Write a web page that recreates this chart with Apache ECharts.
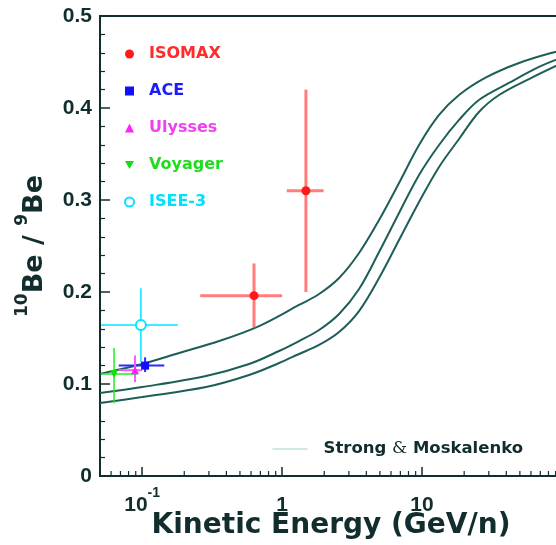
<!DOCTYPE html>
<html>
<head>
<meta charset="utf-8">
<script src="https://cdn.jsdelivr.net/npm/echarts@6/dist/echarts.min.js"></script>
<style>
  html, body { margin: 0; padding: 0; background: #ffffff; }
  #chart { width: 556px; height: 545px; }
</style>
</head>
<body>
<div id="chart"></div>
<script>
// Strong & Moskalenko propagation model: 10Be/9Be versus kinetic energy (GeV/n)
const modelUpperE = [0.05, 0.1, 0.184, 0.355, 0.685, 1.322, 1.838, 2.554, 3.548, 4.932, 6.85, 9.52, 13.23, 18.38, 28.65, 49.3, 89.1, 100];
const modelUpperR = [0.111, 0.1217, 0.1337, 0.1467, 0.163, 0.1859, 0.1978, 0.2152, 0.2424, 0.2783, 0.3185, 0.3598, 0.3924, 0.4141, 0.4332, 0.4489, 0.4609, 0.462];

const modelMidE = [0.05, 0.1, 0.286, 0.581, 0.952, 1.322, 1.838, 2.554, 3.548, 4.932, 6.85, 9.52, 13.23, 18.38, 25.5, 41.8, 68.5, 100];
const modelMidR = [0.0902, 0.0967, 0.1087, 0.1217, 0.1359, 0.1467, 0.1587, 0.1761, 0.2033, 0.2435, 0.2859, 0.3272, 0.3598, 0.387, 0.4087, 0.4272, 0.4446, 0.4549];

const modelLowE = [0.05, 0.1, 0.286, 0.581, 0.952, 1.322, 1.838, 2.554, 3.548, 4.932, 6.85, 9.52, 13.23, 18.38, 25.5, 35.5, 58.1, 100];
const modelLowR = [0.0793, 0.0859, 0.0967, 0.1098, 0.1228, 0.1326, 0.1424, 0.1565, 0.1793, 0.2152, 0.2565, 0.2978, 0.3359, 0.3663, 0.3957, 0.4141, 0.4315, 0.4489];

// Measurements: energy, ratio and their error ranges
const isomaxE = [0.63, 1.48];
const isomaxR = [0.196, 0.31];
const isomaxELo = [0.26, 1.08];
const isomaxEHi = [1.0, 1.98];
const isomaxRLo = [0.161, 0.20];
const isomaxRHi = [0.231, 0.42];

const aceE = [0.105];
const aceR = [0.12];
const aceELo = [0.068];
const aceEHi = [0.144];
const aceRLo = [0.113];
const aceRHi = [0.129];

const ulyssesE = [0.089];
const ulyssesR = [0.115];
const ulyssesELo = [0.068];
const ulyssesEHi = [0.1];
const ulyssesRLo = [0.102];
const ulyssesRHi = [0.131];

const voyagerE = [0.063];
const voyagerR = [0.111];
const voyagerELo = [0.051];
const voyagerEHi = [0.092];
const voyagerRLo = [0.079];
const voyagerRHi = [0.139];

const iseeE = [0.098];
const iseeR = [0.164];
const iseeELo = [0.051];
const iseeEHi = [0.18];
const iseeRLo = [0.124];
const iseeRHi = [0.204];

const modelName = 'Strong & Moskalenko';
const yTickLabels = ['0', '0.1', '0.2', '0.3', '0.4', '0.5'];

const INK = '#122d2d';
const CURVE = '#1d5f58';

function zip(e, r) { return e.map((v, i) => [v, r[i]]); }
function rows(e, r, elo, ehi, rlo, rhi) {
  return e.map((v, i) => [v, r[i], elo[i], ehi[i], rlo[i], rhi[i]]);
}

function errorBarRenderer(color, width) {
  return function (params, api) {
    const c = api.coord([api.value(0), api.value(1)]);
    const l = api.coord([api.value(2), api.value(1)]);
    const r = api.coord([api.value(3), api.value(1)]);
    const lo = api.coord([api.value(0), api.value(4)]);
    const hi = api.coord([api.value(0), api.value(5)]);
    const style = { stroke: color, lineWidth: width };
    return {
      type: 'group',
      children: [
        { type: 'line', shape: { x1: l[0], y1: c[1], x2: r[0], y2: c[1] }, style: style },
        { type: 'line', shape: { x1: c[0], y1: lo[1], x2: c[0], y2: hi[1] }, style: style }
      ]
    };
  };
}

// logarithmic minor tick positions (2..9 per decade)
const minorTickValues = [];
for (let k = -2; k <= 1; k++) {
  for (let m = 2; m <= 9; m++) {
    const v = m * Math.pow(10, k);
    if (v > 0.05 && v < 100) minorTickValues.push([v, 0]);
  }
}

const experiments = [
  { name: 'ISOMAX',  data: rows(isomaxE, isomaxR, isomaxELo, isomaxEHi, isomaxRLo, isomaxRHi),
    symbol: 'circle', size: 9, color: '#ff1a1a', bar: 'rgba(255,70,70,0.7)', barWidth: 3, text: '#ff2a2a' },
  { name: 'ACE',     data: rows(aceE, aceR, aceELo, aceEHi, aceRLo, aceRHi),
    symbol: 'rect', size: 8, color: '#1010ff', bar: '#2a2aff', barWidth: 2, text: '#1a1aff' },
  { name: 'Ulysses', data: rows(ulyssesE, ulyssesR, ulyssesELo, ulyssesEHi, ulyssesRLo, ulyssesRHi),
    symbol: 'triangle', size: 8, color: '#ff22ff', bar: '#ff55ff', barWidth: 2, text: '#f040f0' },
  { name: 'Voyager', data: rows(voyagerE, voyagerR, voyagerELo, voyagerEHi, voyagerRLo, voyagerRHi),
    symbol: 'path://M0,0 L10,0 L5,9 Z', size: 8, color: '#11dd11', bar: '#22ee22', barWidth: 1.5, text: '#1fdc1f' },
  { name: 'ISEE-3',  data: rows(iseeE, iseeR, iseeELo, iseeEHi, iseeRLo, iseeRHi),
    symbol: 'emptyCircle', size: 10, color: '#00e6ff', bar: '#00e6ff', barWidth: 1.5, text: '#00e0ff' }
];

const series = [];
[[modelUpperE, modelUpperR], [modelMidE, modelMidR], [modelLowE, modelLowR]].forEach(function (c) {
  series.push({
    name: modelName, type: 'line', data: zip(c[0], c[1]), smooth: 0.35,
    symbol: 'none', lineStyle: { color: CURVE, width: 2 }, z: 2, silent: true
  });
});
experiments.forEach(function (ex) {
  series.push({
    name: ex.name, type: 'scatter', data: ex.data.map(d => [d[0], d[1]]),
    symbol: ex.symbol, symbolSize: ex.size,
    itemStyle: { color: ex.color, borderColor: ex.color, borderWidth: ex.symbol === 'emptyCircle' ? 1.6 : 0, opacity: 1 },
    z: 5
  });
});
experiments.forEach(function (ex) {
  series.push({
    name: ex.name, type: 'custom', data: ex.data, encode: { x: 0, y: 1 },
    renderItem: errorBarRenderer(ex.bar, ex.barWidth), z: 4, silent: true
  });
});
series.push({
  type: 'custom', data: minorTickValues, silent: true, z: 6,
  renderItem: function (params, api) {
    const p = api.coord([api.value(0), 0]);
    return { type: 'line', shape: { x1: p[0], y1: p[1], x2: p[0], y2: p[1] - 5 },
             style: { stroke: INK, lineWidth: 1.2 } };
  }
});

const chart = echarts.init(document.getElementById('chart'), null, { renderer: 'canvas' });
chart.setOption({
  animation: false,
  backgroundColor: '#ffffff',
  grid: {
    left: 100, top: 16, width: 462, height: 460, show: true,
    borderColor: INK, borderWidth: 2, containLabel: false, outerBoundsMode: 'none'
  },
  legend: [
    {
      orient: 'vertical', left: 119, top: 39, itemWidth: 9, itemHeight: 9, itemGap: 17,
      selectedMode: false,
      textStyle: { fontFamily: 'DejaVu Sans', fontWeight: 'bold', fontSize: 16, lineHeight: 20, padding: [0, 0, 0, 10] },
      data: experiments.map(ex => ({ name: ex.name, textStyle: { color: ex.text } }))
    },
    {
      orient: 'horizontal', left: 267, top: 434, itemWidth: 35, itemHeight: 10,
      selectedMode: false,
      textStyle: {
        color: INK, lineHeight: 20, padding: [0, 0, 0, 11],
        rich: {
          t: { fontFamily: 'DejaVu Sans', fontWeight: 'bold', fontSize: 16.5, color: INK },
          a: { fontFamily: 'DejaVu Serif', fontSize: 17, color: INK }
        }
      },
      formatter: function () { return '{t|Strong }{a|&}{t| Moskalenko}'; },
      data: [{
        name: modelName,
        lineStyle: { color: '#9fd3cd', width: 1 },
        itemStyle: { color: '#9fd3cd', opacity: 0, borderWidth: 0 }
      }]
    }
  ],
  xAxis: {
    type: 'log', min: 0.05, max: 100, splitNumber: 3,
    name: 'Kinetic Energy (GeV/n)', nameLocation: 'middle', nameGap: 36, nameMoveOverlap: false,
    nameTextStyle: { fontFamily: 'DejaVu Sans', fontWeight: 'bold', fontSize: 28, color: INK },
    axisLine: { lineStyle: { color: INK, width: 2 } },
    axisTick: { inside: true, length: 9, lineStyle: { color: INK, width: 1.5 } },
    splitLine: { show: false },
    axisLabel: {
      margin: 10, color: INK, showMinLabel: false,
      formatter: function (v) {
        const lg = Math.log10(v);
        if (Math.abs(lg - Math.round(lg)) > 1e-6) return '';
        const e = Math.round(lg);
        if (e === -1) return '{b|10}{s|-1}';
        if (e === 0) return '{b|1}';
        if (e === 1) return '{b|10}';
        return '';
      },
      rich: {
        b: { fontFamily: 'Liberation Sans', fontWeight: 'bold', fontSize: 21, lineHeight: 30, verticalAlign: 'bottom', color: INK },
        s: { fontFamily: 'Liberation Sans', fontWeight: 'bold', fontSize: 14, lineHeight: 30, verticalAlign: 'top', color: INK }
      }
    }
  },
  yAxis: {
    type: 'value', min: 0, max: 0.5, interval: 0.1,
    name: '{s|10}{b|Be / }{s|9}{b|Be}', nameLocation: 'middle', nameRotate: 90, nameGap: 52,
    nameTextStyle: {
      color: INK,
      rich: {
        b: { fontFamily: 'DejaVu Sans', fontWeight: 'bold', fontSize: 27, lineHeight: 34, verticalAlign: 'bottom', color: INK },
        s: { fontFamily: 'DejaVu Sans', fontWeight: 'bold', fontSize: 17, lineHeight: 34, verticalAlign: 'top', color: INK }
      }
    },
    axisLine: { show: true, lineStyle: { color: INK, width: 2 } },
    axisTick: { inside: true, length: 10, lineStyle: { color: INK, width: 1.5 } },
    minorTick: { show: true, splitNumber: 5, length: 5, lineStyle: { color: INK, width: 1.2 } },
    splitLine: { show: false },
    axisLabel: {
      margin: 8, color: INK, fontFamily: 'Liberation Sans', fontWeight: 'bold', fontSize: 21,
      formatter: function (v) { return yTickLabels[Math.round(v * 10)]; }
    }
  },
  series: series
});
</script>
</body>
</html>
